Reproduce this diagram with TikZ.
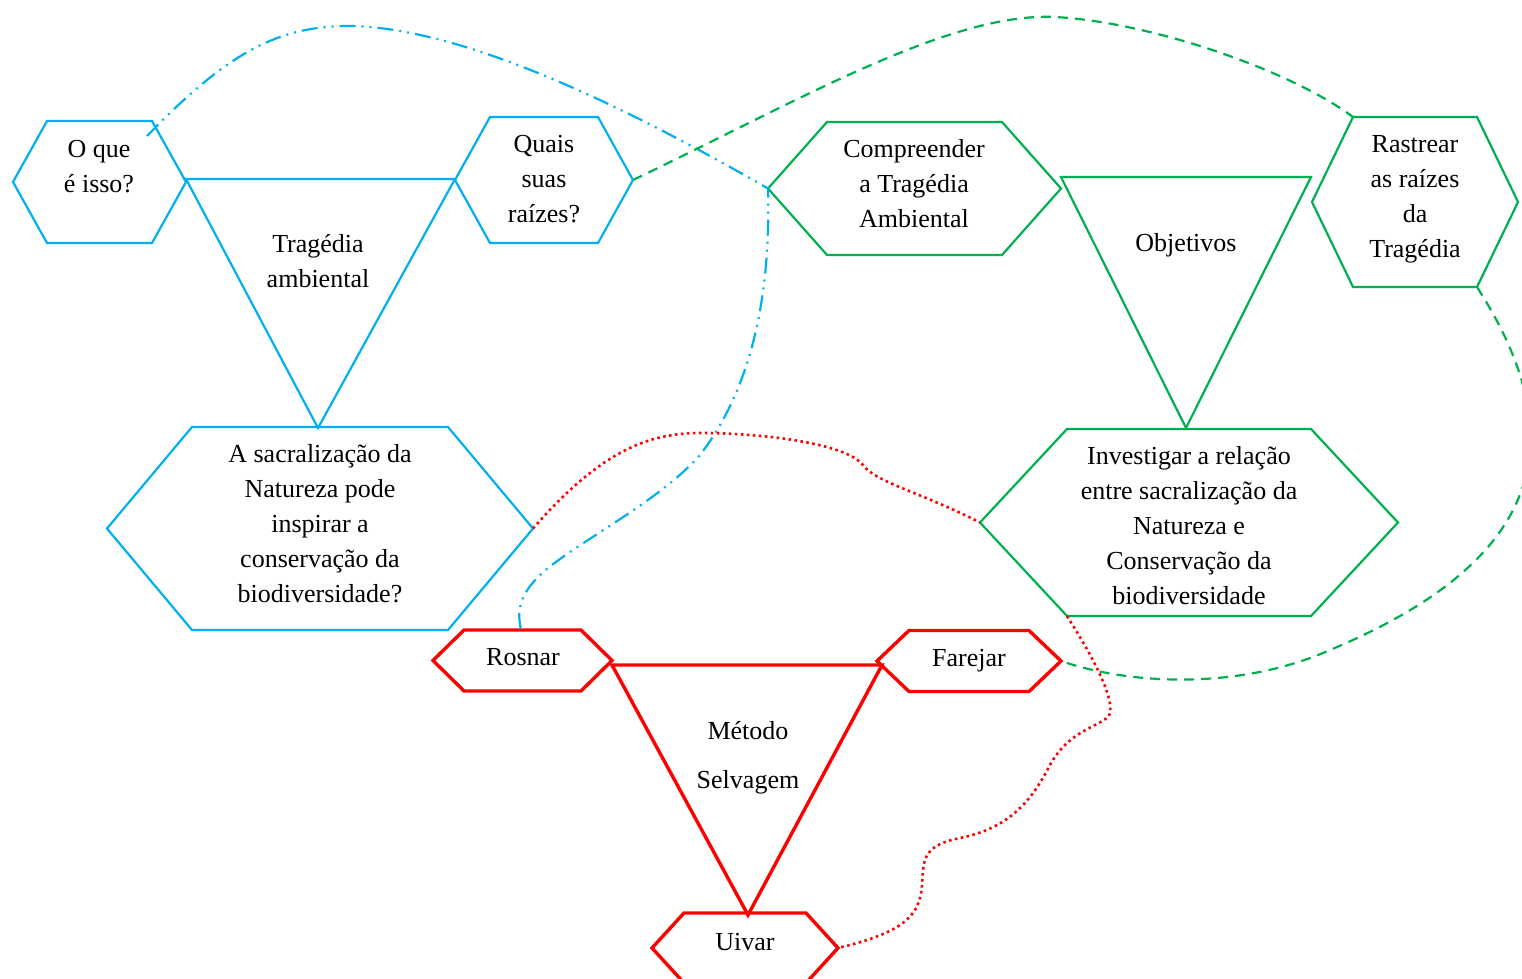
\documentclass[tikz,border=0pt]{standalone}
\usepackage{fontspec}
\setmainfont{Liberation Serif}
\definecolor{cy}{HTML}{00B0F0}
\definecolor{gr}{HTML}{00B050}
\definecolor{rd}{HTML}{FF0000}
\newcommand\hexshape[7]{%
  \coordinate (#1-l) at ({#2-#4},{#3});
  \coordinate (#1-tl) at ({#2-#4+#5},{#3-#6});
  \coordinate (#1-tr) at ({#2+#4-#5},{#3-#6});
  \coordinate (#1-r) at ({#2+#4},{#3});
  \coordinate (#1-br) at ({#2+#4-#5},{#3+#6});
  \coordinate (#1-bl) at ({#2-#4+#5},{#3+#6});
  \draw[#7] (#1-l) -- (#1-tl) -- (#1-tr) -- (#1-r) -- (#1-br) -- (#1-bl) -- cycle;
}
\tikzset{
  cyanshape/.style={draw=cy, line width=2.2pt},
  greenshape/.style={draw=gr, line width=2.2pt},
  redshape/.style={draw=rd, line width=3.4pt},
  lbl/.style={font=\fontsize{26}{35}\selectfont, align=center, anchor=base, inner sep=0pt},
  cyconn/.style={cy, line width=2.2pt, dash pattern=on 16pt off 6pt on 2pt off 6pt on 2pt off 6pt},
  grconn/.style={gr, line width=2.2pt, dash pattern=on 10pt off 7pt},
  rdconn/.style={rd, line width=2.6pt, dash pattern=on 2.6pt off 3.4pt}
}
\begin{document}
\begin{tikzpicture}[x=1pt, y=-1pt]
\path[use as bounding box] (0,0) rectangle (1522,979);
\clip (0,0) rectangle (1522,979);

% cyan group
\hexshape{oq}{99.5}{182}{86.5}{34}{61}{cyanshape}
\hexshape{quais}{544}{180}{89}{35}{63}{cyanshape}
\hexshape{sacral}{320}{528.5}{213}{85}{101.5}{cyanshape}
\coordinate (tc-a) at (186,179);
\coordinate (tc-b) at (455,179);
\coordinate (tc-c) at (318,428);
\draw[cyanshape] (tc-a) -- (tc-b) -- (tc-c) -- cycle;

% green group
\hexshape{comp}{914.5}{188.5}{146.5}{59}{66.5}{greenshape}
\hexshape{rast}{1415}{202}{103}{41}{85}{greenshape}
\hexshape{inv}{1189}{522.5}{209}{87}{93.5}{greenshape}
\coordinate (tg-a) at (1061,177);
\coordinate (tg-b) at (1311,177);
\coordinate (tg-c) at (1186,428);
\draw[greenshape] (tg-a) -- (tg-b) -- (tg-c) -- cycle;

% red group
\hexshape{ros}{522.5}{660.5}{89.5}{31}{30.5}{redshape}
\hexshape{far}{969}{661}{92}{32}{30.5}{redshape}
\hexshape{uiv}{745}{948}{93}{32}{35}{redshape}
\coordinate (tr-a) at (612,665);
\coordinate (tr-b) at (882,665);
\coordinate (tr-c) at (748,915);
\draw[redshape] (tr-a) -- (tr-b) -- (tr-c) -- cycle;

% labels (anchor=base is the baseline of the last line)
\node[lbl] (t-oq) at (99,192) {O que\\é isso?};
\node[lbl] (t-trag) at (318,287) {Tragédia\\ambiental};
\node[lbl] (t-quais) at (544,222) {Quais\\suas\\raízes?};
\node[lbl] (t-sacral) at (320,602) {A sacralização da\\Natureza pode\\inspirar a\\conservação da\\biodiversidade?};
\node[lbl] (t-comp) at (914,227) {Compreender\\a Tragédia\\Ambiental};
\node[lbl] (t-obj) at (1186,251) {Objetivos};
\node[lbl] (t-rast) at (1415,257) {Rastrear\\as raízes\\da\\Tragédia};
\node[lbl] (t-inv) at (1189,604) {Investigar a relação\\entre sacralização da\\Natureza e\\Conservação da\\biodiversidade};
\node[lbl] (t-ros) at (523,665) {Rosnar};
\node[lbl] (t-far) at (969,666) {Farejar};
\node[lbl] (t-met) at (748,788) {Método\\[14pt]Selvagem};
\node[lbl] (t-uiv) at (745,950) {Uivar};

% connectors
\coordinate (oqin) at (147,136);
\coordinate (rostop) at (521,630);
\draw[cyconn] (oqin) .. controls (230,50) and (280,26) .. (350,26)
  .. controls (470,28) and (640,115) .. (comp-l)
  .. controls (771,300) and (750,390) .. (700,455)
  .. controls (660,500) and (590,535) .. (548,568)
  .. controls (515,595) and (518,615) .. (rostop);

\draw[grconn] (quais-r) .. controls (800,100) and (950,12) .. (1055,17)
  .. controls (1150,22) and (1290,70) .. (rast-tl);
\draw[grconn] (rast-br) .. controls (1575,440) and (1545,560) .. (1330,650)
  .. controls (1240,690) and (1130,685) .. (far-r);

\draw[rdconn] (sacral-r) .. controls (610,440) and (660,432) .. (710,433)
  .. controls (790,435) and (850,448) .. (863,465)
  .. controls (875,482) and (920,492) .. (inv-l);
\draw[rdconn] (inv-bl) .. controls (1095,660) and (1118,705) .. (1108,717)
  .. controls (1095,728) and (1068,732) .. (1050,765)
  .. controls (1032,800) and (1010,828) .. (960,838)
  .. controls (920,846) and (924,862) .. (922,885)
  .. controls (920,915) and (905,932) .. (uiv-r);
\end{tikzpicture}
\end{document}
